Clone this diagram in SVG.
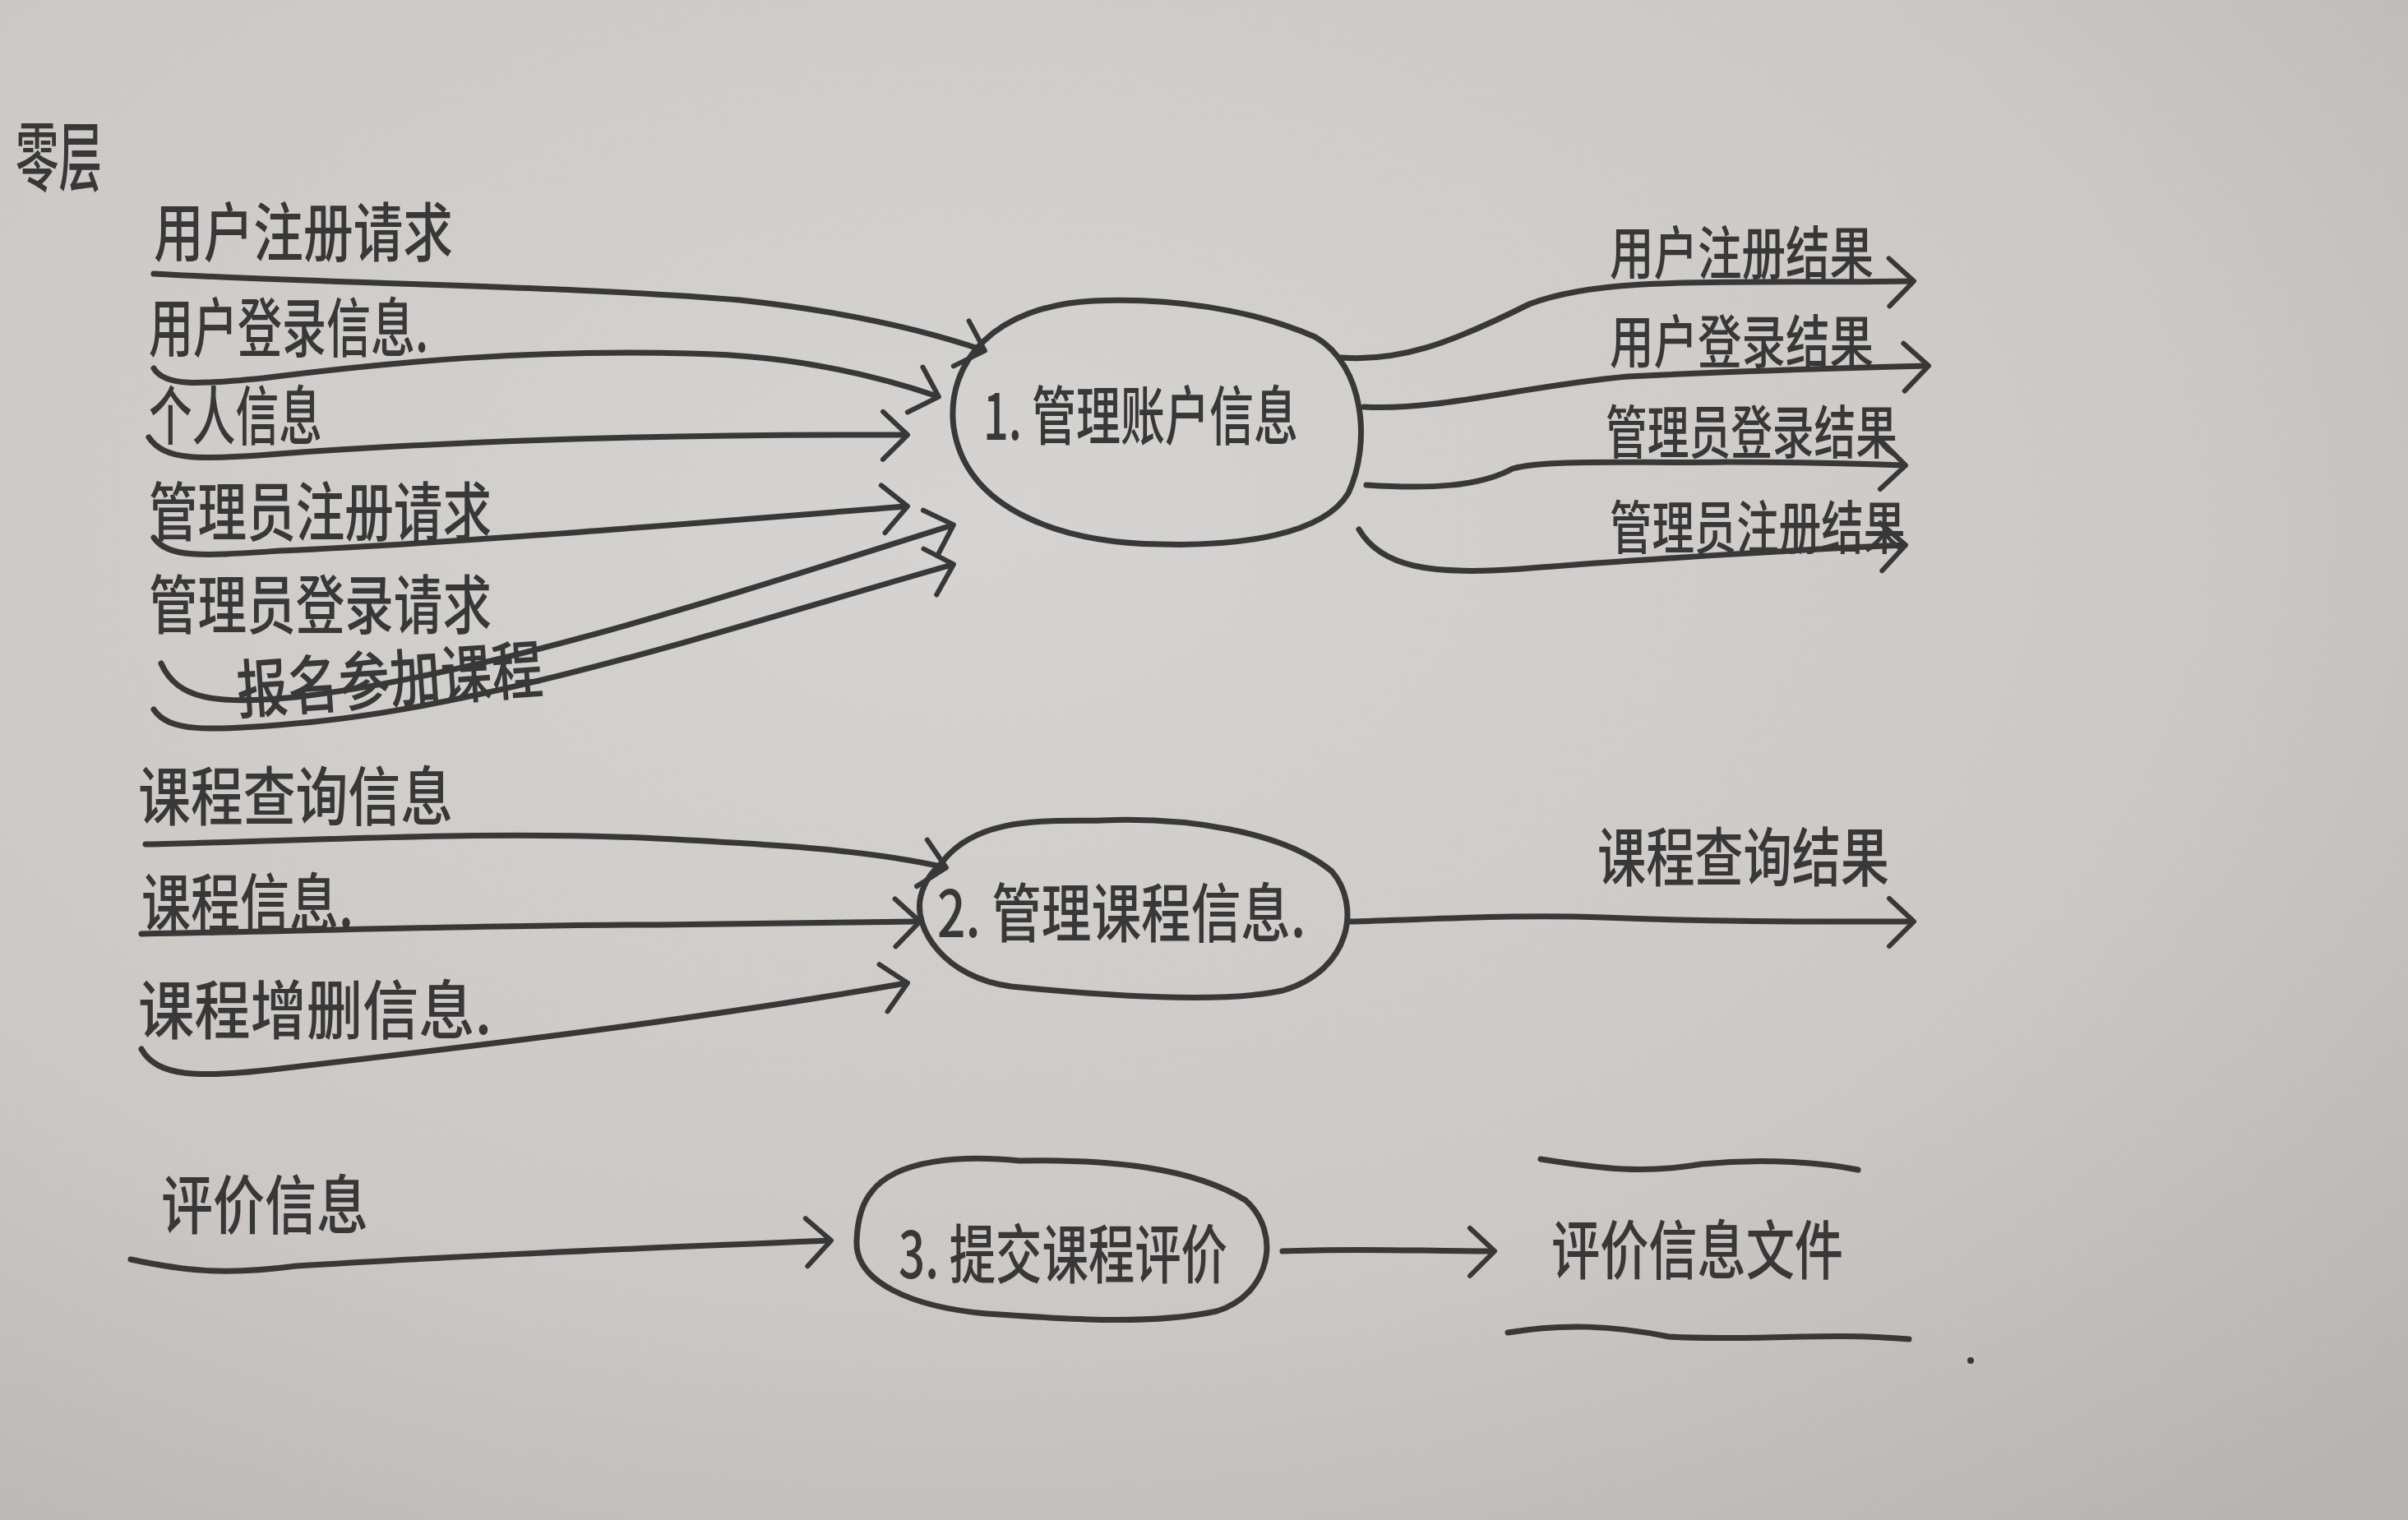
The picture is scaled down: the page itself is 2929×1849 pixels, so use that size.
<svg xmlns="http://www.w3.org/2000/svg" width="2929" height="1849" viewBox="0 0 2929 1849">
  <defs>
    <radialGradient id="paper" cx="0.4" cy="0.35" r="0.85">
      <stop offset="0" stop-color="#d6d4d2"/>
      <stop offset="0.6" stop-color="#cbc8c5"/>
      <stop offset="1" stop-color="#b6b3b0"/>
    </radialGradient>
    <marker id="arrow" markerUnits="userSpaceOnUse" markerWidth="60" markerHeight="70" refX="34" refY="32" orient="auto" viewBox="0 0 60 70">
      <path d="M6,4 L36,32 L6,62" fill="none" stroke="#383838" stroke-width="6" stroke-linecap="round" stroke-linejoin="round"/>
    </marker>
    <style>
      .ink { fill: none; stroke: #383838; stroke-width: 7; stroke-linecap: round; stroke-linejoin: round; }
      .flow { fill: none; stroke: #383838; stroke-width: 7; stroke-linecap: round; marker-end: url(#arrow); }
      .lbl { font-family: "Noto Sans CJK SC", "Noto Sans", sans-serif; font-size: 78px; font-weight: 500; fill: #383838; }
      .out { font-size: 70px; }
      .big { font-size: 92px; }
    </style>
  </defs>

  <!-- paper -->
  <rect x="0" y="0" width="2929" height="1849" fill="url(#paper)"/>

  <!-- level heading -->
  <text class="lbl big" x="19" y="225" textLength="105" lengthAdjust="spacingAndGlyphs">零层</text>

  <!-- process 1 -->
  <g id="p1">
    <path class="ink" d="M1160,520 C1150,440 1210,372 1330,366 C1420,362 1520,375 1600,410 C1660,445 1668,540 1640,600 C1610,650 1510,665 1410,662 C1290,660 1175,620 1160,520 Z"/>
    <text class="lbl" x="1196" y="535" textLength="383" lengthAdjust="spacingAndGlyphs">1. 管理账户信息</text>
  </g>

  <!-- process 2 -->
  <g id="p2">
    <path class="ink" d="M1145,1050 C1190,990 1280,1000 1340,998 C1440,994 1560,1010 1620,1060 C1655,1100 1645,1180 1560,1205 C1480,1222 1330,1210 1230,1200 C1150,1190 1110,1130 1120,1090 C1125,1070 1135,1060 1145,1050 Z"/>
    <text class="lbl" x="1140" y="1140" textLength="448" lengthAdjust="spacingAndGlyphs">2. 管理课程信息.</text>
  </g>

  <!-- process 3 -->
  <g id="p3">
    <path class="ink" d="M1060,1450 C1090,1410 1170,1405 1240,1412 C1350,1410 1450,1420 1515,1460 C1560,1500 1545,1575 1480,1595 C1400,1612 1300,1605 1200,1598 C1110,1590 1040,1560 1042,1510 C1043,1480 1050,1462 1060,1450 Z"/>
    <text class="lbl" x="1093" y="1555" textLength="400" lengthAdjust="spacingAndGlyphs">3. 提交课程评价</text>
  </g>

  <!-- data store -->
  <g id="store">
    <path class="ink" d="M1874,1410 C1950,1422 2000,1428 2070,1416 C2150,1408 2220,1415 2260,1423"/>
    <path class="ink" d="M1834,1621 C1900,1610 1960,1612 2030,1626 C2120,1632 2220,1620 2322,1629"/>
    <text class="lbl" x="1887" y="1550" textLength="355" lengthAdjust="spacingAndGlyphs">评价信息文件</text>
  </g>

  <!-- connectors -->
  <g id="connectors">
    <path class="flow" d="M187,333 C400,345 700,348 900,365 C1020,378 1120,400 1196,426"/>
    <path class="flow" d="M187,448 C200,470 240,468 320,460 C480,440 640,425 840,430 C960,432 1060,455 1140,482"/>
    <path class="flow" d="M181,532 C200,560 240,560 340,552 C560,536 800,528 1102,529"/>
    <path class="flow" d="M187,654 C205,680 250,676 340,670 C560,660 800,640 1102,616"/>
    <path class="flow" d="M196,807 C215,850 260,858 360,848 C600,820 900,720 1158,639"/>
    <path class="flow" d="M187,863 C205,890 250,890 360,880 C600,860 900,760 1158,687"/>
    <path class="flow" d="M177,1027 C400,1022 600,1010 800,1020 C960,1028 1060,1035 1149,1055"/>
    <path class="flow" d="M172,1136 C400,1132 650,1124 800,1125 C950,1124 1050,1122 1117,1121"/>
    <path class="flow" d="M172,1276 C190,1310 240,1312 340,1300 C600,1270 850,1240 1102,1196"/>
    <path class="flow" d="M159,1532 C220,1545 270,1552 360,1540 C600,1525 800,1518 1009,1509"/>
    <path class="flow" d="M1560,1522 C1650,1518 1730,1522 1816,1522"/>
    <path class="flow" d="M1631,435 C1700,440 1760,420 1860,370 C1950,335 2100,345 2326,342"/>
    <path class="flow" d="M1659,495 C1750,500 1850,470 1980,458 C2100,452 2220,448 2344,445"/>
    <path class="flow" d="M1662,590 C1740,595 1800,592 1840,570 C1880,558 2000,564 2100,562 C2200,562 2260,564 2316,566"/>
    <path class="flow" d="M1653,644 C1680,690 1740,700 1850,692 C2000,680 2200,668 2316,663"/>
    <path class="flow" d="M1640,1121 C1750,1118 1850,1112 1950,1116 C2100,1122 2220,1121 2326,1121"/>
  </g>

  <!-- flow labels -->
  <g id="labels">
    <text class="lbl" x="187" y="312" textLength="364" lengthAdjust="spacingAndGlyphs">用户注册请求</text>
    <text class="lbl" x="181" y="428" textLength="340" lengthAdjust="spacingAndGlyphs">用户登录信息.</text>
    <text class="lbl" x="181" y="535" textLength="211" lengthAdjust="spacingAndGlyphs">个人信息</text>
    <text class="lbl" x="181" y="652" textLength="417" lengthAdjust="spacingAndGlyphs">管理员注册请求</text>
    <text class="lbl" x="181" y="765" textLength="417" lengthAdjust="spacingAndGlyphs">管理员登录请求</text>
    <text class="lbl" x="290" y="868" textLength="373" lengthAdjust="spacingAndGlyphs" transform="rotate(-4 290 868)">报名参加课程</text>
    <text class="lbl" x="168" y="998" textLength="383" lengthAdjust="spacingAndGlyphs">课程查询信息</text>
    <text class="lbl" x="172" y="1128" textLength="258" lengthAdjust="spacingAndGlyphs">课程信息.</text>
    <text class="lbl" x="168" y="1258" textLength="430" lengthAdjust="spacingAndGlyphs">课程增删信息.</text>
    <text class="lbl" x="196" y="1495" textLength="252" lengthAdjust="spacingAndGlyphs">评价信息</text>
    <text class="lbl out" x="1958" y="334" textLength="321" lengthAdjust="spacingAndGlyphs">用户注册结果</text>
    <text class="lbl out" x="1958" y="442" textLength="321" lengthAdjust="spacingAndGlyphs">用户登录结果</text>
    <text class="lbl out" x="1953" y="552" textLength="355" lengthAdjust="spacingAndGlyphs">管理员登录结果</text>
    <text class="lbl out" x="1958" y="668" textLength="360" lengthAdjust="spacingAndGlyphs">管理员注册结果</text>
    <text class="lbl" x="1943" y="1072" textLength="355" lengthAdjust="spacingAndGlyphs">课程查询结果</text>
  </g>

  <!-- stray pen mark -->
  <circle cx="2397" cy="1655" r="4" fill="#383838"/>
</svg>
